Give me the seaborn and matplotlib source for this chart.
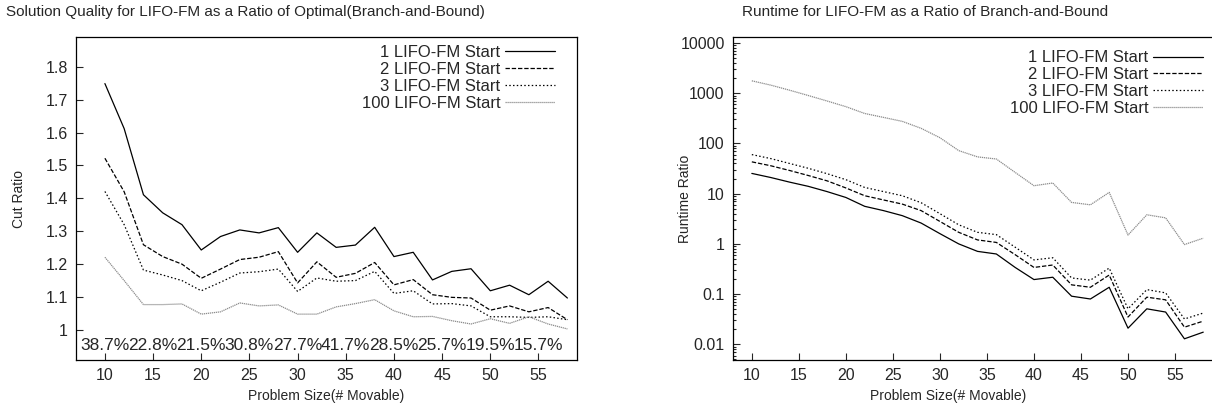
import matplotlib
matplotlib.use("Agg")
import seaborn as sns
from matplotlib import pyplot as plt
from matplotlib import ticker

sizes = [10, 12, 14, 16, 18, 20, 22, 24, 26, 28, 30, 32, 34, 36, 38, 40, 42, 44, 46, 48, 50, 52, 54, 56, 58]
series_names = ["1 LIFO-FM Start", "2 LIFO-FM Start", "3 LIFO-FM Start", "100 LIFO-FM Start"]

cut_1 = [1.749, 1.612, 1.411, 1.356, 1.320, 1.243, 1.284, 1.304, 1.295, 1.311, 1.236, 1.295, 1.251,
         1.258, 1.312, 1.223, 1.236, 1.152, 1.178, 1.186, 1.119, 1.136, 1.107, 1.148, 1.097]
cut_2 = [1.522, 1.420, 1.259, 1.223, 1.200, 1.157, 1.185, 1.214, 1.221, 1.238, 1.143, 1.207, 1.160,
         1.172, 1.205, 1.137, 1.153, 1.107, 1.099, 1.097, 1.060, 1.073, 1.055, 1.068, 1.031]
cut_3 = [1.421, 1.320, 1.182, 1.167, 1.150, 1.119, 1.145, 1.173, 1.177, 1.185, 1.117, 1.158, 1.148,
         1.150, 1.178, 1.111, 1.119, 1.079, 1.080, 1.073, 1.040, 1.040, 1.038, 1.040, 1.031]
cut_100 = [1.221, 1.150, 1.077, 1.077, 1.079, 1.048, 1.055, 1.082, 1.073, 1.076, 1.048, 1.048, 1.070,
           1.080, 1.092, 1.058, 1.040, 1.041, 1.028, 1.018, 1.034, 1.020, 1.040, 1.018, 1.003]

rt_1 = [25.3, 21, 17, 14, 11, 8.4, 5.6, 4.6, 3.65, 2.6, 1.6, 1.0, 0.71, 0.63, 0.34, 0.195, 0.217,
        0.091, 0.08, 0.137, 0.021, 0.051, 0.044, 0.0129, 0.0175]
rt_2 = [43, 36, 29, 23, 18, 13, 9.1, 7.5, 6.2, 4.6, 2.8, 1.7, 1.2, 1.07, 0.61, 0.34, 0.38,
        0.153, 0.137, 0.24, 0.035, 0.087, 0.077, 0.022, 0.029]
rt_3 = [60, 50, 40, 32, 25, 19, 13.3, 11, 9.1, 6.6, 4.0, 2.4, 1.7, 1.53, 0.86, 0.48, 0.53,
        0.21, 0.19, 0.33, 0.051, 0.123, 0.106, 0.032, 0.042]
rt_100 = [1765, 1450, 1150, 900, 700, 540, 395, 330, 275, 200, 130, 72, 54, 49, 26.5, 14.4, 16.3,
          6.7, 6.0, 10.6, 1.5, 3.8, 3.3, 0.97, 1.3]

pct_x = [10, 15, 20, 25, 30, 35, 40, 45, 50, 55]
pct_labels = ["38.7%", "22.8%", "21.5%", "30.8%", "27.7%", "41.7%", "28.5%", "25.7%", "19.5%", "15.7%"]
x_ticks = [10, 15, 20, 25, 30, 35, 40, 45, 50, 55]

sns.set_style("ticks")
plt.rcParams["font.family"] = ["Liberation Sans", "DejaVu Sans"]
plt.rcParams["xtick.direction"] = "in"
plt.rcParams["ytick.direction"] = "in"
plt.rcParams["axes.linewidth"] = 0.9
plt.rcParams["axes.edgecolor"] = "black"

TICK_FS = 11.5
LEG_FS = 12
LABEL_FS = 10
TITLE_FS = 11
styles = [
    dict(color="black", linestyle="-"),
    dict(color="black", linestyle=(0, (3.5, 1.5))),
    dict(color="black", linestyle=(0, (1.2, 1.8))),
    dict(color="#8c8c8c", linestyle=(0, (1, 0.6))),
]

fig = plt.figure(figsize=(12.12, 4.13), dpi=100)
ax1 = fig.add_axes([0.0627, 0.1283, 0.4134, 0.7821])
ax2 = fig.add_axes([0.6048, 0.1283, 0.4035, 0.7821])


def draw(ax, series):
    for vals, name, st in zip(series, series_names, styles):
        sns.lineplot(x=sizes, y=vals, ax=ax, label=name, linewidth=0.9, **st)


def key(ax, anchor):
    # markerfirst=False puts the sample after the text, rows right aligned (gnuplot style)
    return ax.legend(loc="upper right", bbox_to_anchor=anchor, frameon=False, markerfirst=False,
                     fontsize=LEG_FS, handlelength=3.0, handletextpad=0.3, labelspacing=0.11,
                     borderaxespad=0.0)


def style_axis(ax):
    ax.tick_params(which="major", length=5, width=0.8, labelsize=TICK_FS, pad=6)
    ax.tick_params(which="minor", length=2.5, width=0.8)
    ax.xaxis.set_major_locator(ticker.FixedLocator(x_ticks))
    ax.yaxis.set_major_formatter(ticker.FuncFormatter(lambda v, p: "%g" % v))
    ax.set_xlabel("Problem Size(# Movable)", fontsize=LABEL_FS)


# left panel: cut ratio
draw(ax1, [cut_1, cut_2, cut_3, cut_100])
ax1.set_xlim(7, 59)
ax1.set_ylim(0.9085, 1.8906)
ax1.yaxis.set_major_locator(ticker.FixedLocator([1.0, 1.1, 1.2, 1.3, 1.4, 1.5, 1.6, 1.7, 1.8]))
style_axis(ax1)
ax1.set_ylabel("Cut Ratio", fontsize=LABEL_FS)
ax1.yaxis.set_label_coords(-0.100, 0.5)
ax1.set_title("Solution Quality for LIFO-FM as a Ratio of Optimal(Branch-and-Bound)",
              fontsize=TITLE_FS, x=0.339, y=1.04)
for px, lab in zip(pct_x, pct_labels):
    ax1.text(px, 0.046, lab, transform=ax1.get_xaxis_transform(), ha="center", va="center",
             fontsize=12.5)
key(ax1, (0.97, 0.995))

# right panel: runtime ratio
draw(ax2, [rt_1, rt_2, rt_3, rt_100])
ax2.set_yscale("log")
ax2.set_xlim(8, 60)
ax2.set_ylim(0.00488, 13150)
ax2.yaxis.set_major_locator(ticker.LogLocator(base=10, numticks=10))
ax2.yaxis.set_minor_locator(ticker.LogLocator(base=10, subs=range(2, 10), numticks=10))
ax2.yaxis.set_minor_formatter(ticker.NullFormatter())
style_axis(ax2)
ax2.xaxis.label.set_x(0.44)
ax2.set_ylabel("Runtime Ratio", fontsize=LABEL_FS)
ax2.yaxis.set_label_coords(-0.084, 0.5)
ax2.set_title("Runtime for LIFO-FM as a Ratio of Branch-and-Bound",
              fontsize=TITLE_FS, x=0.392, y=1.04)
key(ax2, (0.975, 0.979))

fig.savefig("out.png", dpi=100)
